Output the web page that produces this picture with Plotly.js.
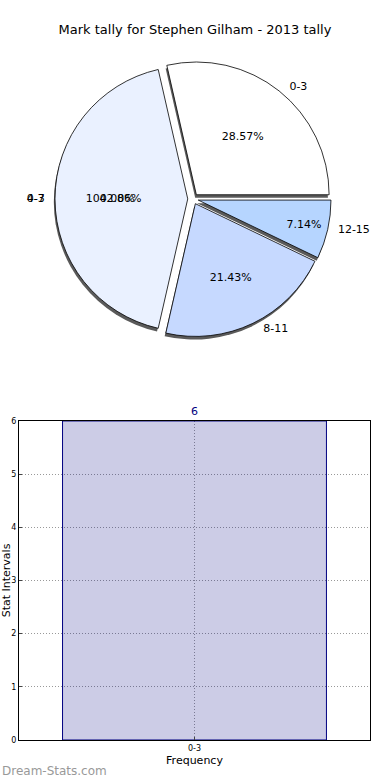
<!DOCTYPE html>
<html><head><meta charset="utf-8">
<script src="https://cdn.plot.ly/plotly-3.0.1.min.js"></script>
<style>html,body{margin:0;padding:0;background:#fff}#chart{width:390px;height:780px}</style>
</head><body><div id="chart"></div>
<script>
const pieLabels = ["0-3", "4-7", "8-11", "12-15"];
const pieValues = [4, 6, 3, 1];
const pieColors = ["#ffffff", "#eaf1ff", "#c6d9ff", "#b6d5ff"];
const piePull = [0.04, 0.04, 0.04, 0.04];
const barCategories = ["0-3"];
const barValues = [6];
const yTicks = [0, 1, 2, 3, 4, 5, 6];

const font = "DejaVu Sans, sans-serif";
const pieDomain = {x: [0.0, 0.99], y: [0.568, 0.922]};
const shadowDomain = {x: [-0.006, 0.984], y: [0.564, 0.918]};
const startRotation = -12.857;

const common = {
  type: "pie", labels: pieLabels, values: pieValues, sort: false,
  direction: "counterclockwise", rotation: startRotation, pull: piePull,
  hoverinfo: "skip", showlegend: false
};
const overlay = {
  type: "pie", labels: barCategories, values: barValues, sort: false,
  direction: "counterclockwise", rotation: 90, domain: pieDomain,
  hoverinfo: "skip", showlegend: false,
  marker: {colors: barCategories.map(() => "rgba(0,0,0,0)"), line: {width: 0}}
};

const traces = [
  Object.assign({}, common, {
    domain: shadowDomain, textinfo: "none",
    marker: {colors: pieLabels.map(() => "#5a5a5a"), line: {width: 0}}
  }),
  Object.assign({}, common, {
    domain: pieDomain, textposition: "inside", insidetextorientation: "horizontal",
    texttemplate: "%{percent:.2%}", textfont: {family: font, size: 11, color: "#000"},
    marker: {colors: pieColors, line: {color: "#000", width: 0.8}}
  }),
  Object.assign({}, common, {
    domain: pieDomain, textposition: "outside", texttemplate: "  %{label}  ",
    textfont: {family: font, size: 11, color: "#000"},
    marker: {colors: pieLabels.map(() => "rgba(0,0,0,0)"), line: {width: 0}}
  }),
  Object.assign({}, overlay, {
    textposition: "outside", texttemplate: "  %{label}  ",
    textfont: {family: font, size: 11, color: "#000"}
  }),
  Object.assign({}, overlay, {
    hole: 0.2, textposition: "inside", insidetextorientation: "horizontal",
    texttemplate: "%{percent:.2%}", textfont: {family: font, size: 11, color: "#000"}
  }),
  {
    type: "bar", x: barCategories, y: barValues, width: 0.8,
    marker: {color: "rgba(0,0,128,0.2)", line: {color: "#000080", width: 1}},
    text: barValues.map(String), textposition: "outside", cliponaxis: false,
    textfont: {family: font, size: 11, color: "#000080"},
    hoverinfo: "skip", showlegend: false
  }
];

const layout = {
  width: 390, height: 780, margin: {l: 0, r: 0, t: 0, b: 0},
  paper_bgcolor: "#fff", plot_bgcolor: "#fff", hovermode: false,
  font: {family: font, color: "#000"},
  title: {text: "Mark tally for Stephen Gilham - 2013 tally", x: 0.5, xanchor: "center",
          y: 0.962, yanchor: "middle", font: {family: font, size: 13, color: "#000"}},
  xaxis: {domain: [0.0487, 0.9487], range: [-0.532, 0.532], type: "category",
          showline: true, mirror: true, linecolor: "#000", linewidth: 1,
          showgrid: true, gridcolor: "#999999", griddash: "1px,2px", gridwidth: 1,
          ticks: "inside", ticklen: 3, tickfont: {family: font, size: 8},
          title: {text: "Frequency", font: {family: font, size: 11}, standoff: 4},
          zeroline: false, fixedrange: true},
  yaxis: {domain: [0.0513, 0.4603], range: [0, 6], tickvals: yTicks,
          showline: true, mirror: true, linecolor: "#000", linewidth: 1,
          showgrid: true, gridcolor: "#999999", griddash: "1px,2px", gridwidth: 1,
          ticks: "inside", ticklen: 3, tickfont: {family: font, size: 8},
          title: {text: "Stat Intervals", font: {family: font, size: 11}, standoff: 6},
          zeroline: false, fixedrange: true},
  annotations: [{text: "Dream-Stats.com", xref: "paper", yref: "paper", x: 0, y: 0,
                 xanchor: "left", yanchor: "bottom", showarrow: false,
                 font: {family: font, size: 12, color: "#999999"}}]
};

Plotly.newPlot("chart", traces, layout, {staticPlot: true, displayModeBar: false});
</script></body></html>
